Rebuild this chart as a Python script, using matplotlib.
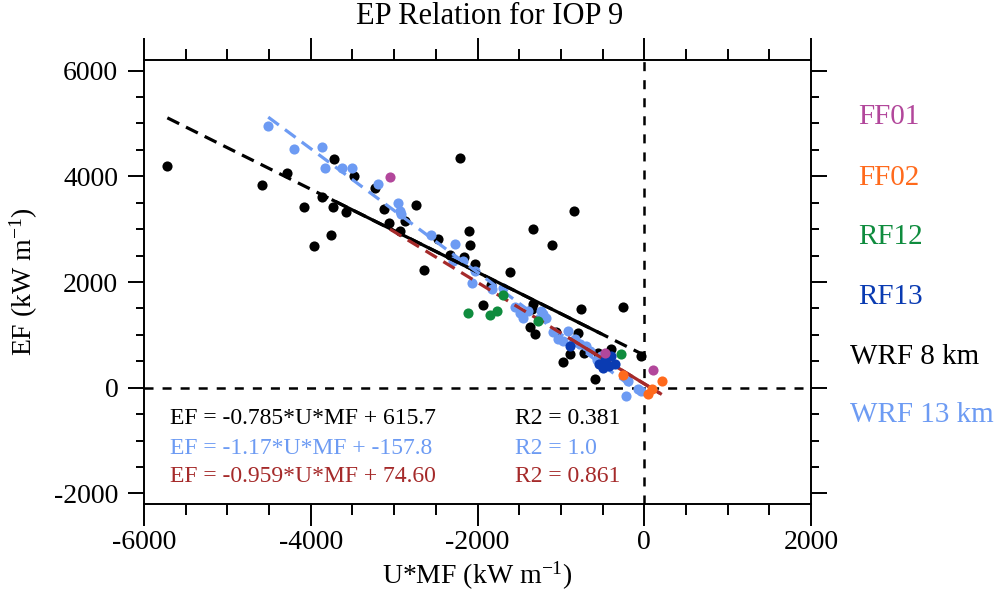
import matplotlib
matplotlib.use('Agg')
import matplotlib.pyplot as plt
import numpy as np

plt.rcParams['font.family'] = ['Liberation Serif', 'DejaVu Serif']
plt.rcParams['mathtext.fontset'] = 'custom'
plt.rcParams['mathtext.rm'] = 'Liberation Serif'
plt.rcParams['mathtext.it'] = 'Liberation Serif:italic'
plt.rcParams['lines.scale_dashes'] = False
plt.rcParams['axes.unicode_minus'] = False

# ---------------- data ----------------
wrf8_x = [-5720, -4580, -4280, -4075, -3960, -3860, -3755, -3730, -3720, -3575,
          -3485, -3235, -3125, -3065, -2925, -2875, -2735, -2475, -2215, -2100,
          -2095, -1335, -1110, -845, -2325, -2160, -2030, -2645, -1610, -1835,
          -1935, -1335, -1350, -755, -260, -1370, -1315, -1055, -790, -895,
          -720, -975, -555, -400, -595, -35]
wrf8_y = [4200, 3840, 4060, 3425, 2675, 3610, 2890, 3425, 4325, 3330,
          4010, 3775, 3380, 3115, 2965, 3160, 3450, 2815, 4355, 2970,
          2695, 3000, 2700, 3350, 2510, 2465, 2345, 2230, 2180, 1940,
          1560, 1580, 1485, 1485, 1535, 1140, 1010, 1055, 1035, 630,
          655, 485, 650, 735, 170, 605]

wrf13_x = [-4510, -4195, -3860, -3830, -3625, -3500, -3190, -2950, -2935, -2915,
           -2555, -2275, -2295, -2175, -2030, -2065, -1825, -1695, -1545, -1485,
           -1455, -1395, -1235, -1215, -1175, -1095, -915, -1035, -975, -835,
           -775, -695, -655, -565, -515, -475, -195, -215, -75, -35]
wrf13_y = [4950, 4520, 4555, 4160, 4160, 4155, 3855, 3495, 3350, 3290,
           2895, 2710, 2400, 2400, 2200, 1990, 1875, 1890, 1525, 1410,
           1320, 1455, 1455, 1390, 1310, 1045, 1075, 915, 885, 915,
           820, 790, 695, 525, 600, 475, 125, -160, -30, -70]

ff01_x = [-3050, -465, 110]
ff01_y = [3985, 655, 330]

ff02_x = [-255, 210, 95, 45]
ff02_y = [235, 125, -20, -125]

rf12_x = [-2110, -1850, -1765, -1695, -1275, -280]
rf12_y = [1410, 1380, 1460, 1755, 1265, 640]

rf13_x = [-885, -540, -465, -400, -355, -425, -495]
rf13_y = [795, 440, 525, 595, 440, 405, 380]

# regression fits (slope, intercept, R2) as printed on the chart
fit_wrf8 = (-0.785, 615.7, '0.381')
fit_wrf13 = (-1.17, -157.8, '1.0')
fit_obs = (-0.959, 74.60, '0.861')
eq_labels = ['EF = -0.785*U*MF + 615.7',
             'EF = -1.17*U*MF + -157.8',
             'EF = -0.959*U*MF + 74.60']
legend_names = ['FF01', 'FF02', 'RF12', 'RF13', 'WRF 8 km', 'WRF 13 km']

# solid sub-ranges of the fit lines (the rest is dashed)
solid_wrf8 = (-3750, -510)
solid_obs = (-900, 190)

# ---------------- styles ----------------
C_FF01 = '#b2479b'
C_FF02 = '#ff6a1c'
C_RF12 = '#0f8c3e'
C_RF13 = '#0a3bb2'
C_WRF8 = '#000000'
C_WRF13 = '#6d9bf3'
C_OBS = '#a52a2a'

fig = plt.figure(figsize=(10.07, 6.01), dpi=100)
ax = fig.add_axes([144/1007, 97/601, 667/1007, 444/601])

ax.set_xlim(-6000, 2000)
ax.set_ylim(-2200, 6200)

ax.axhline(0, color='black', lw=1.8, ls=(0, (6.5, 6.5)), zorder=1)
ax.axvline(0, color='black', lw=1.8, ls=(0, (6.5, 6.5)), zorder=1)

ms = 7.3
ax.plot(wrf8_x, wrf8_y, 'o', color=C_WRF8, ms=ms, mew=0, zorder=2)
ax.plot(wrf13_x, wrf13_y, 'o', color=C_WRF13, ms=ms, mew=0, zorder=2)

dash = (0, (9.5, 5.5))

def fit_line(xs, fit, color, solid=None):
    s, b, _ = fit
    xx = np.array([min(xs), max(xs)])
    ax.plot(xx, s*xx + b, color=color, lw=2.3, ls=dash, zorder=3,
            solid_capstyle='butt', dash_capstyle='butt')
    if solid is not None:
        xs2 = np.array(solid)
        ax.plot(xs2, s*xs2 + b, color=color, lw=2.3, ls='-', zorder=3,
                solid_capstyle='butt')

fit_line(wrf8_x, fit_wrf8, C_WRF8, solid_wrf8)
fit_line(wrf13_x, fit_wrf13, C_WRF13)
obs_x = ff01_x + ff02_x + rf12_x + rf13_x
fit_line(obs_x, fit_obs, C_OBS, solid_obs)

ax.plot(rf12_x, rf12_y, 'o', color=C_RF12, ms=ms, mew=0, zorder=4)
ax.plot(rf13_x, rf13_y, 'o', color=C_RF13, ms=ms, mew=0, zorder=4)
ax.plot(ff01_x, ff01_y, 'o', color=C_FF01, ms=ms, mew=0, zorder=4)
ax.plot(ff02_x, ff02_y, 'o', color=C_FF02, ms=ms, mew=0, zorder=4)

# ticks
ax.set_xticks(np.arange(-6000, 2001, 2000))
ax.set_xticks(np.arange(-6000, 2001, 500), minor=True)
ax.set_yticks(np.arange(-2000, 6001, 2000))
ax.set_yticks(np.arange(-2000, 6001, 500), minor=True)
ax.tick_params(axis='x', which='both', direction='out', top=True, bottom=True,
               labeltop=False, width=1.4, labelsize=20, pad=3)
ax.tick_params(axis='x', which='major', length=16)
ax.tick_params(axis='x', which='minor', length=8)
ax.tick_params(axis='y', which='both', direction='out', left=True, right=True,
               labelright=False, width=1.4, labelsize=20, pad=7)
ax.tick_params(axis='y', which='major', length=11.5)
ax.tick_params(axis='y', which='minor', length=5.5)
for sp in ax.spines.values():
    sp.set_linewidth(1.4)

ax.set_xlabel('U*MF (kW m$^{-1}$)', fontsize=20, labelpad=3)
ax.set_ylabel('EF (kW m$^{-1}$)', fontsize=20, labelpad=10)
fig.text(490/1007, 1 - 17/601, 'EP Relation for IOP 9', fontsize=22,
         ha='center', va='center')

# equations
eq_colors = [C_WRF8, C_WRF13, C_OBS]
eq_r2 = [fit_wrf8[2], fit_wrf13[2], fit_obs[2]]
eq_y = [(504-418)/444, (504-448)/444, (504-477)/444]
for lab, r2, c, yy in zip(eq_labels, eq_r2, eq_colors, eq_y):
    ax.text((170-144)/667, yy, lab, color=c, fontsize=17, transform=ax.transAxes,
            ha='left', va='center')
    ax.text((515-144)/667, yy, 'R2 = ' + r2, color=c, fontsize=17,
            transform=ax.transAxes, ha='left', va='center')

# right-hand legend
leg_colors = [C_FF01, C_FF02, C_RF12, C_RF13, C_WRF8, C_WRF13]
leg_x = [858, 858, 858, 858, 850, 850]
leg_y = [117, 178, 237, 297, 357, 415]
for name, c, lx, ly in zip(legend_names, leg_colors, leg_x, leg_y):
    fig.text(lx/1007, 1 - ly/601, name, color=c, fontsize=21, ha='left', va='center')

fig.savefig('out.png', dpi=100)
